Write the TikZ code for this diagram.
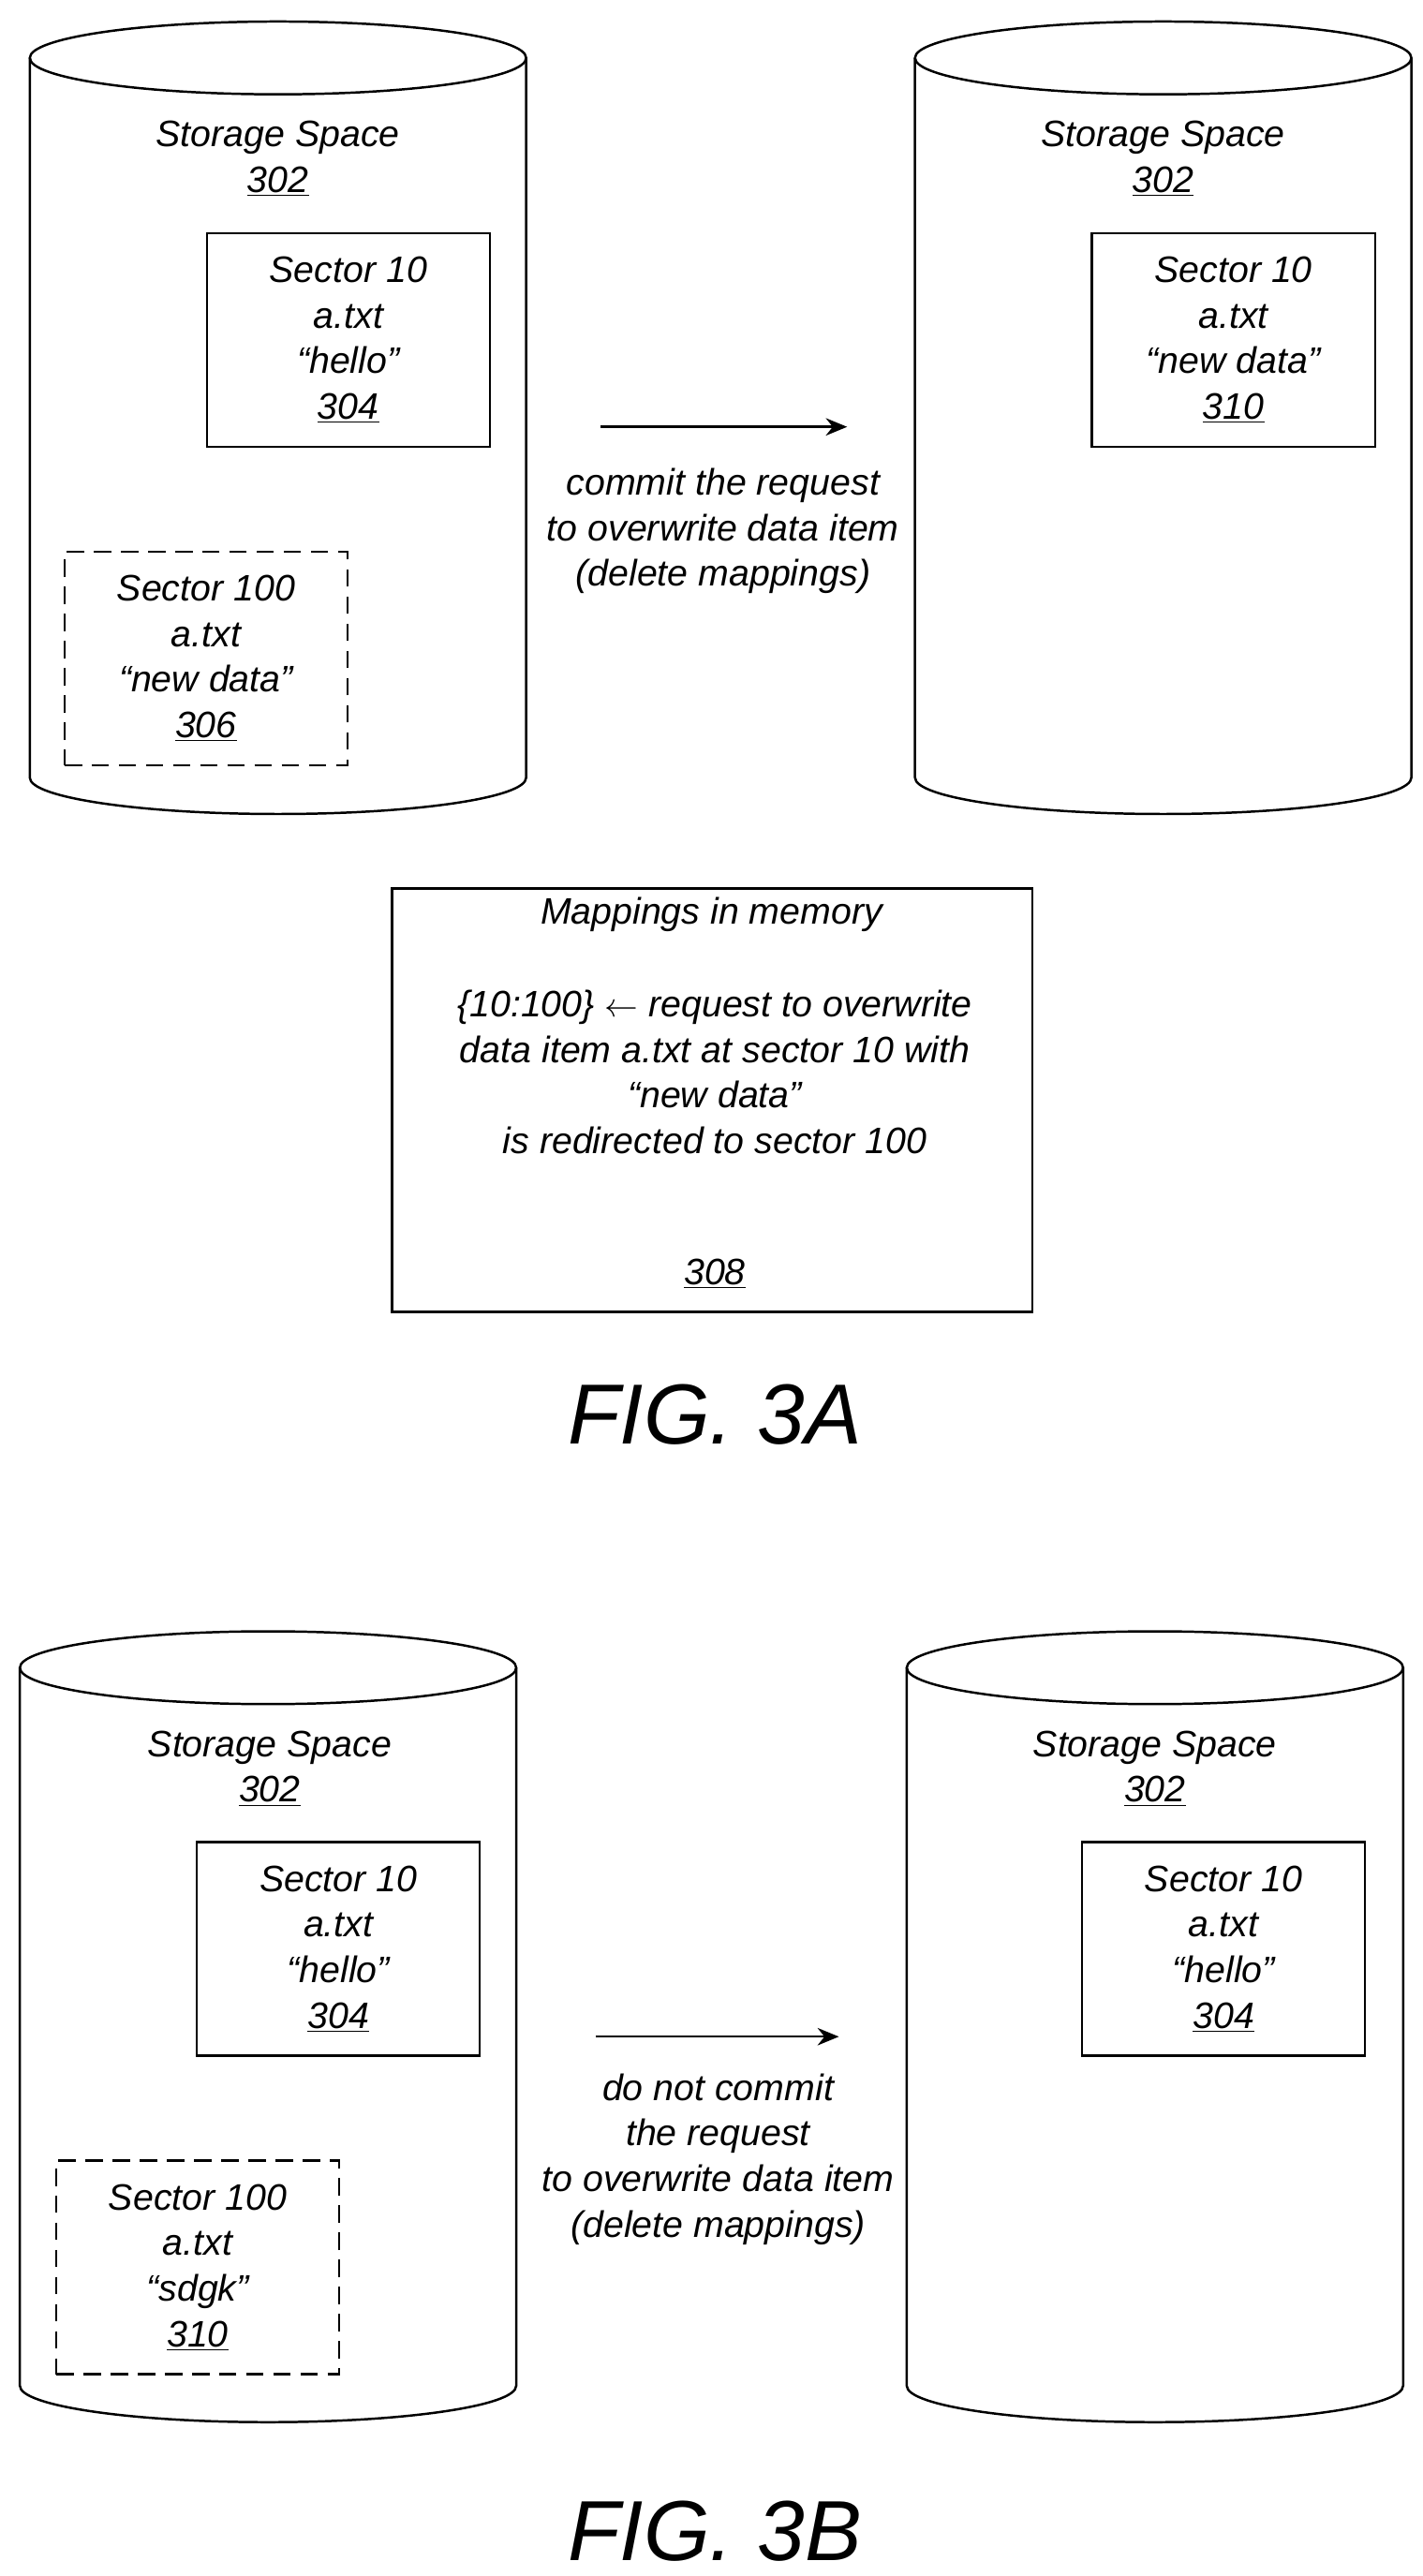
\documentclass[tikz,border=0pt]{standalone}
\usepackage{fontspec}
\setmainfont{Liberation Sans}
\usetikzlibrary{arrows.meta,positioning}

% cylinder: left x, right x, y of top ellipse, y of bottom ellipse
\newcommand{\drum}[4]{%
  \draw[line width=1.2pt, fill=white] (#1,#3) -- (#1,#4)
    arc[start angle=180, end angle=0, x radius={(#2-#1)/2}, y radius=22] -- (#2,#3);
  \draw[line width=1.2pt] ({(#1+#2)/2},#3) ellipse [x radius={(#2-#1)/2}, y radius=22];
}

\begin{document}
\begin{tikzpicture}[x=0.03cm, y=-0.03cm,
    txt/.style={align=center, font=\fontsize{19}{23.5}\selectfont\itshape, inner sep=0pt},
    sector/.style={txt, draw, line width=1.2pt, minimum width=5.13cm, minimum height=3.87cm},
    spare/.style={sector, dashed, dash pattern=on 9pt off 5pt},
    fig/.style={font=\fontsize{44}{50}\selectfont\itshape, inner sep=0pt}]
		\useasboundingbox (0,0) rectangle (860,1557);
		% FIG. 3A
		\drum{18}{318}{35}{470}
		\drum{553}{853}{35}{470}
		\node[txt] (s1) at (168,96) {Storage Space\\\underline{302}};
		\node[sector] (a304) at (210.5,205.5) {Sector 10\\a.txt\\“hello”\\\underline{304}};
		\node[spare] (a306) at (124.5,398) {Sector 100\\a.txt\\“new data”\\\underline{306}};
		\node[txt] (s2) at (703,96) {Storage Space\\\underline{302}};
		\node[sector] (a310) at (745.5,205.5) {Sector 10\\a.txt\\“new data”\\\underline{310}};
		\coordinate (c1) at (363,258);
		\coordinate (c2) at (512,258);
		\draw[line width=1.2pt, -{Stealth[length=11pt, width=9pt]}] (c1) -- (c2);
		\node[txt] (l1) at (437,321) {commit the request\\to overwrite data item\\(delete mappings)};
		\node[draw, line width=1.2pt, minimum width=11.61cm, minimum height=7.68cm] (map) at (430.5,665) {};
		\node[txt] (m1) at (430,553) {Mappings in memory};
		\node[txt] (m2) at (432,648) {\{10:100\} \ensuremath{\leftarrow} request to overwrite\\data item a.txt at sector 10 with\\“new data”\\is redirected to sector 100};
		\node[txt] (m3) at (432,770) {\underline{308}};
		\node[fig] (f1) at (432,855) {FIG. 3A};
		% FIG. 3B
		\drum{12}{312}{1008}{1442}
		\drum{548}{848}{1008}{1442}
		\node[txt] (s3) at (163,1069) {Storage Space\\\underline{302}};
		\node[sector] (b304) at (204.5,1178) {Sector 10\\a.txt\\“hello”\\\underline{304}};
		\node[spare] (b310) at (119.5,1370.5) {Sector 100\\a.txt\\“sdgk”\\\underline{310}};
		\node[txt] (s4) at (698,1069) {Storage Space\\\underline{302}};
		\node[sector] (c304) at (739.5,1178) {Sector 10\\a.txt\\“hello”\\\underline{304}};
		\coordinate (d1) at (360,1231);
		\coordinate (d2) at (507,1231);
		\draw[line width=1.2pt, -{Stealth[length=11pt, width=9pt]}] (d1) -- (d2);
		\node[txt] (l2) at (434,1305) {do not commit\\the request\\to overwrite data item\\(delete mappings)};
		\node[fig] (f2) at (432,1530) {FIG. 3B};
	\end{tikzpicture}
\end{document}
